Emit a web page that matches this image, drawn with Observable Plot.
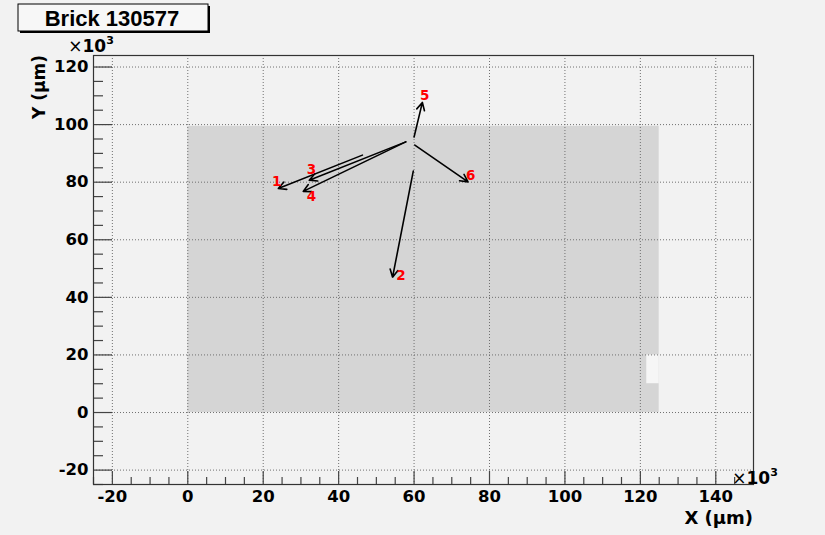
<!DOCTYPE html>
<html><head><meta charset="utf-8">
<script src="https://cdn.jsdelivr.net/npm/d3@7"></script>
<script src="https://cdn.jsdelivr.net/npm/@observablehq/plot@0.6"></script>
<style>
body{margin:0;background:#f2f2f2;}
#wrap{position:relative;width:825px;height:535px;background:#f2f2f2;}
</style></head><body><div id="wrap"></div>
<script>
const title = "Brick 130577";
const xLabel = "X (μm)";
const yLabel = "Y (μm)";
const trackIds = ["1", "2", "3", "4", "5", "6"];
const startX = [46.3, 59.8, 57.8, 57.8, 60.0, 60.2];
const startY = [89.4, 83.9, 94.0, 94.0, 95.7, 92.9];
const endX   = [24.0, 54.3, 32.2, 30.6, 62.2, 74.3];
const endY   = [77.8, 47.0, 80.7, 76.8, 107.7, 80.1];
const labelX = [23.6, 56.5, 32.8, 32.8, 62.8, 75.0];
const labelY = [80.1, 47.4, 84.4, 75.1, 109.9, 82.4];
const brickX = [0, 125];
const brickY = [0, 99.4];
const gapX = [121.7, 125];
const gapY = [10, 20];
const xDomain = [-25, 150];
const yDomain = [-25, 124];
const xTicks = d3.range(-20, 141, 20);
const yTicks = d3.range(-20, 121, 20);
const xMinor = d3.range(-25, 151, 5).filter(v => v % 20 !== 0);
const yMinor = d3.range(-25, 125, 5).filter(v => v % 20 !== 0);

const tracks = trackIds.map((id, i) => ({id, x1: startX[i], y1: startY[i], x2: endX[i], y2: endY[i], lx: labelX[i], ly: labelY[i]}));
const brick = [{x1: brickX[0], x2: brickX[1], y1: brickY[0], y2: brickY[1]}];
const gap = [{x1: gapX[0], x2: gapX[1], y1: gapY[0], y2: gapY[1]}];

const W = 825, H = 535, mL = 93, mR = 72, mT = 55, mB = 51;
const fw = W - mL - mR, fh = H - mT - mB;
const font = "'Liberation Sans', Arial, sans-serif";
const wide = "'DejaVu Sans', sans-serif";

const chart = Plot.plot({
  width: W, height: H,
  marginLeft: mL, marginRight: mR, marginTop: mT, marginBottom: mB,
  style: {background: "transparent", fontFamily: wide, color: "#000", overflow: "visible"},
  x: {domain: xDomain},
  y: {domain: yDomain},
  marks: [
    Plot.rect(brick, {x1: "x1", x2: "x2", y1: "y1", y2: "y2", fill: "#d5d5d5"}),
    Plot.rect(gap, {x1: "x1", x2: "x2", y1: "y1", y2: "y2", fill: "#f6f6f6"}),
    Plot.ruleX(xTicks, {x: d => d, stroke: "#707070", strokeWidth: 1, strokeDasharray: "1,2"}),
    Plot.ruleY(yTicks, {y: d => d, stroke: "#707070", strokeWidth: 1, strokeDasharray: "1,2"}),
    Plot.ruleX(xTicks, {x: d => d, insetTop: fh - 13, stroke: "#444", strokeWidth: 1.2}),
    Plot.ruleX(xMinor, {x: d => d, insetTop: fh - 7, stroke: "#444", strokeWidth: 1.2}),
    Plot.ruleY(yTicks, {y: d => d, insetRight: fw - 19, stroke: "#444", strokeWidth: 1.2}),
    Plot.ruleY(yMinor, {y: d => d, insetRight: fw - 10, stroke: "#444", strokeWidth: 1.2}),
    Plot.axisX({ticks: xTicks, tickSize: 0, tickPadding: 6, tickFormat: d => String(d), fontSize: 16.5, fontWeight: "bold", label: null}),
    Plot.axisY({ticks: yTicks, tickSize: 0, tickPadding: 5, tickFormat: d => String(d), fontSize: 16.5, fontWeight: "bold", label: null}),
    Plot.frame({stroke: "#333", strokeWidth: 1.2}),
    Plot.arrow(tracks, {x1: "x1", y1: "y1", x2: "x2", y2: "y2", stroke: "#000", strokeWidth: 1.6, headLength: 8, headAngle: 55}),
    Plot.text(tracks, {x: "lx", y: "ly", text: "id", fill: "#ff0000", fontSize: 13.5, fontWeight: "bold"})
  ]
});
document.getElementById("wrap").appendChild(chart);

const svg = d3.select(chart);
// title box
const g = svg.append("g");
g.append("rect").attr("x", 20).attr("y", 6).attr("width", 190).attr("height", 27).attr("fill", "#000");
g.append("rect").attr("x", 18).attr("y", 4).attr("width", 190).attr("height", 27).attr("fill", "#f7f7f7").attr("stroke", "#000").attr("stroke-width", 1);
g.append("text").attr("x", 112).attr("y", 26).attr("text-anchor", "middle")
  .attr("font-family", font).attr("font-weight", "bold").attr("font-size", 22).text(title);
// exponent labels
function expo(x, y) {
  const t = svg.append("text").attr("x", x).attr("y", y).attr("font-family", wide).attr("font-weight", "bold").attr("font-size", 17);
  t.append("tspan").attr("font-weight", "normal").text("×");
  t.append("tspan").text("10");
  t.append("tspan").attr("font-size", 11).attr("dy", -8).text("3");
}
expo(91, 52);
expo(755, 484);
// axis titles
svg.append("text").attr("x", W - mR).attr("y", 524).attr("text-anchor", "end")
  .attr("font-family", wide).attr("font-weight", "bold").attr("font-size", 18).text(xLabel);
svg.append("text").attr("transform", `translate(45,${mT}) rotate(-90)`).attr("text-anchor", "end")
  .attr("font-family", wide).attr("font-weight", "bold").attr("font-size", 17).text(yLabel);
</script></body></html>
